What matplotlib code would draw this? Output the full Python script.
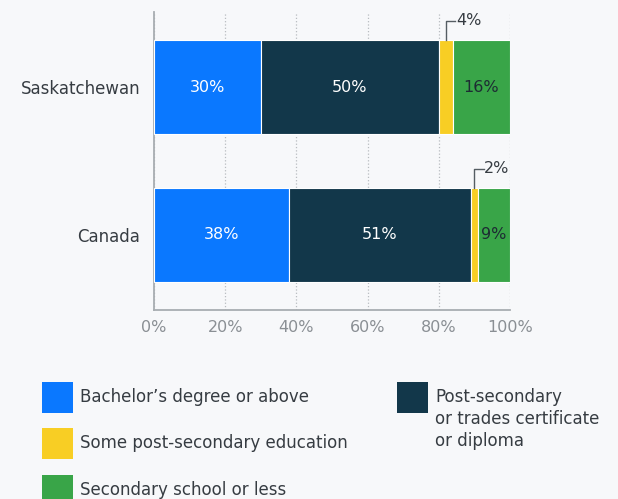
import matplotlib.pyplot as plt
import numpy as np
from matplotlib.patches import Rectangle

plt.rcParams['font.family'] = ['DejaVu Sans']

# Education shares (%) by region
regions = ['Saskatchewan', 'Canada']
bachelor = [30, 38]
postsec_cert = [50, 51]
some_postsec = [4, 2]
secondary = [16, 9]

series = [
    ('Bachelor\u2019s degree or above', bachelor, '#0a78ff', 'white'),
    ('Post-secondary\nor trades certificate\nor diploma', postsec_cert, '#12374a', 'white'),
    ('Some post-secondary education', some_postsec, '#f8ce24', None),
    ('Secondary school or less', secondary, '#39a548', '#1d2b33'),
]
ticks = [0, 20, 40, 60, 80, 100]

bg = '#f7f8fa'
fs = 11.5
txt = '#363c42'
fig = plt.figure(figsize=(6.18, 4.99), dpi=100, facecolor=bg)
ax = fig.add_axes([154 / 618, 1 - 310 / 499, 356 / 618, 298 / 499])
ax.set_facecolor(bg)

ypos = np.array([1, 0])
height = 0.635
left = np.zeros(len(regions))
for name, vals, color, txtcolor in series:
    vals = np.array(vals, dtype=float)
    ax.barh(ypos, vals, left=left, height=height, color=color,
            edgecolor='white', linewidth=0.8, zorder=3)
    for y, l, v in zip(ypos, left, vals):
        if txtcolor is not None:
            ax.text(l + v / 2, y, f'{v:.0f}%', ha='center', va='center',
                    color=txtcolor, fontsize=fs, zorder=4)
        else:
            # small segment: label above with leader line
            xc = l + v / 2
            ytop = y + height / 2
            yline = ytop + 0.13
            ax.plot([xc, xc, xc + 2.6], [ytop, yline, yline], color='#555d63',
                    linewidth=1, zorder=4, clip_on=False)
            ax.text(xc + 2.8, yline, f'{v:.0f}%', ha='left', va='center',
                    color=txt, fontsize=fs, zorder=4)
    left += vals

ax.set_xlim(0, 100)
ax.set_ylim(-0.507, 1.507)
ax.set_xticks(ticks)
ax.set_xticklabels([f'{t}%' for t in ticks], color='#8a8f94', fontsize=fs)
ax.set_yticks(ypos)
ax.set_yticklabels(regions, color=txt, fontsize=12)
ax.tick_params(length=0, pad=7)
ax.tick_params(axis='y', pad=10)
ax.grid(axis='x', linestyle=':', color='#b8bcc0', linewidth=0.9, zorder=0)
for s in ('top', 'right'):
    ax.spines[s].set_visible(False)
for s in ('left', 'bottom'):
    ax.spines[s].set_color('#a8adb1')
    ax.spines[s].set_linewidth(1.3)

# legend laid out by hand in pixel coordinates
legend_pos = [(42, 382), (397, 382), (42, 428), (42, 475)]
for (name, vals, color, _), (px, py) in zip(series, legend_pos):
    fig.add_artist(Rectangle((px / 618, 1 - (py + 31) / 499), 31 / 618, 31 / 499,
                             transform=fig.transFigure, facecolor=color,
                             edgecolor='none'))
    fig.text((px + 38) / 618, 1 - (py + 6) / 499, name, ha='left', va='top',
             color=txt, fontsize=12, linespacing=1.27)

fig.savefig('out.png', dpi=100, facecolor=bg)
